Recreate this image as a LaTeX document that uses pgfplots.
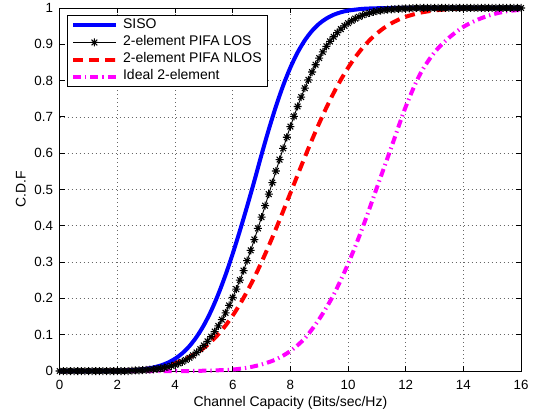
\documentclass[border=0pt]{standalone}
\usepackage{pgfplots}
\pgfplotsset{compat=1.18}
\usepackage{pgfplotstable}
\usepackage{fontspec}
\setmainfont{Liberation Sans}
\definecolor{mblue}{rgb}{0,0,1}
\definecolor{mred}{rgb}{1,0,0}
\definecolor{mmag}{rgb}{1,0,1}
\pgfdeclareplotmark{mstar}{%
 \pgfpathmoveto{\pgfqpoint{-\pgfplotmarksize}{0pt}}\pgfpathlineto{\pgfqpoint{\pgfplotmarksize}{0pt}}%
 \pgfpathmoveto{\pgfqpoint{0pt}{-\pgfplotmarksize}}\pgfpathlineto{\pgfqpoint{0pt}{\pgfplotmarksize}}%
 \pgfpathmoveto{\pgfqpoint{-0.707\pgfplotmarksize}{-0.707\pgfplotmarksize}}\pgfpathlineto{\pgfqpoint{0.707\pgfplotmarksize}{0.707\pgfplotmarksize}}%
 \pgfpathmoveto{\pgfqpoint{-0.707\pgfplotmarksize}{0.707\pgfplotmarksize}}\pgfpathlineto{\pgfqpoint{0.707\pgfplotmarksize}{-0.707\pgfplotmarksize}}%
 \pgfusepathqstroke}

\pgfplotstableread{
x y
0 0
0.25 0
0.5 0
1 0
1.5 0.0002
2 0.0007
2.5 0.0021
2.75 0.0036
3 0.0060
3.25 0.0096
3.5 0.0150
3.75 0.0228
4 0.0337
4.25 0.0487
4.5 0.0686
4.75 0.0943
5 0.1263
5.25 0.1653
5.5 0.2115
5.75 0.2643
6 0.3231
6.25 0.3867
6.5 0.4538
6.75 0.5235
7 0.5960
7.25 0.6650
7.5 0.7291
7.75 0.7864
8 0.8360
8.25 0.8774
8.5 0.9108
8.75 0.9369
9 0.9567
9.25 0.9711
9.5 0.9813
9.75 0.9882
10 0.9928
10.5 0.9976
11 0.9993
11.5 1
12 1
13 1
14 1
15 1
16 1
}\sisodata

\pgfplotstableread{
x y
0 0
0.125 0
0.25 0
0.375 0
0.5 0
0.625 0
0.75 0
0.875 0
1 0
1.125 0
1.25 0
1.375 0
1.5 0
1.625 0
1.75 0
1.875 0
2 0
2.125 0
2.25 0
2.375 0
2.5 0.0011
2.625 0.0014
2.75 0.0018
2.875 0.0023
3 0.0029
3.125 0.0037
3.25 0.0047
3.375 0.0059
3.5 0.0074
3.625 0.0092
3.75 0.0114
3.875 0.0141
4 0.0172
4.125 0.0209
4.25 0.0253
4.375 0.0304
4.5 0.0363
4.625 0.0432
4.75 0.0510
4.875 0.0601
5 0.0702
5.125 0.0816
5.25 0.0944
5.375 0.1086
5.5 0.1243
5.625 0.1414
5.75 0.1601
5.875 0.1806
6 0.2024
6.125 0.2257
6.25 0.2505
6.375 0.2766
6.5 0.3040
6.625 0.3325
6.75 0.3621
6.875 0.3928
7 0.4239
7.125 0.4554
7.25 0.4872
7.375 0.5191
7.5 0.5509
7.625 0.5824
7.75 0.6133
7.875 0.6439
8 0.6733
8.125 0.7016
8.25 0.7287
8.375 0.7546
8.5 0.7791
8.625 0.8021
8.75 0.8236
8.875 0.8437
9 0.8621
9.125 0.8790
9.25 0.8944
9.375 0.9082
9.5 0.9207
9.625 0.9319
9.75 0.9419
9.875 0.9506
10 0.9583
10.125 0.9649
10.25 0.9707
10.375 0.9756
10.5 0.9799
10.625 0.9835
10.75 0.9865
10.875 0.9890
11 0.9912
11.125 0.9929
11.25 0.9943
11.375 0.9955
11.5 0.9964
11.625 0.9972
11.75 0.9978
11.875 0.9983
12 0.9987
12.125 0.9990
12.25 0.9993
12.375 1
12.5 1
12.625 1
12.75 1
12.875 1
13 1
13.125 1
13.25 1
13.375 1
13.5 1
13.625 1
13.75 1
13.875 1
14 1
14.125 1
14.25 1
14.375 1
14.5 1
14.625 1
14.75 1
14.875 1
15 1
15.125 1
15.25 1
15.375 1
15.5 1
15.625 1
15.75 1
15.875 1
16 1
}\losdata

\pgfplotstableread{
x y
0 0
0.5 0
1 0.0002
1.5 0.0005
2 0.0012
2.5 0.0028
3 0.0058
3.25 0.0082
3.5 0.0115
3.75 0.0158
4 0.0214
4.25 0.0287
4.5 0.0380
4.75 0.0495
5 0.0636
5.25 0.0808
5.5 0.1011
5.75 0.1251
6 0.1527
6.25 0.1841
6.5 0.2192
6.75 0.2578
7 0.2998
7.25 0.3446
7.5 0.3917
7.75 0.4404
8 0.4900
8.25 0.5398
8.5 0.5890
8.75 0.6368
9 0.6826
9.25 0.7257
9.5 0.7658
9.75 0.8023
10 0.8352
10.25 0.8643
10.5 0.8897
10.75 0.9115
11 0.9299
11.25 0.9452
11.5 0.9577
11.75 0.9678
12 0.9759
12.5 0.9870
13 0.9933
13.5 0.9968
14 0.9985
15 0.9997
16 1
}\nlosdata

\pgfplotstableread{
x y
0 0
1 0
2 0
3 0
4 0
4.5 0
5 0.0008
5.5 0.002
6 0.004
6.5 0.009
7 0.018
7.5 0.032
8 0.055
8.5 0.09
9 0.143
9.5 0.21
10 0.295
10.5 0.394
11 0.505
11.5 0.616
12 0.728
12.5 0.818
13 0.878
13.5 0.918
14 0.948
14.5 0.968
15 0.982
15.5 0.991
16 0.995
}\idealdata

\begin{document}
\begin{tikzpicture}
\begin{axis}[
  scale only axis,
  width=346pt, height=272.25pt,
  xmin=0, xmax=16, ymin=0, ymax=1,
  xtick={0,2,4,6,8,10,12,14,16},
  ytick={0,0.1,0.2,0.3,0.4,0.5,0.6,0.7,0.8,0.9,1},
  grid=major,
  grid style={black!60, dash pattern=on 0.6pt off 2.4pt, line width=0.5pt},
  tick align=inside,
  major tick length=3.75pt,
  tick style={black, line width=0.6pt},
  axis line style={black, line width=0.6pt},
  clip=false,
  /pgf/number format/assume math mode=true,
  ticklabel style={font=\fontsize{10}{12}\selectfont},
  xticklabel style={yshift=-3.4pt},
  yticklabel style={xshift=-1.5pt},
  xlabel={Channel Capacity (Bits/sec/Hz)},
  ylabel={C.D.F},
  label style={font=\fontsize{10.5}{12}\selectfont},
  x label style={at={(axis description cs:0.5,-0.0984)}, anchor=base},
  y label style={at={(axis description cs:-0.0636,0.5)}, anchor=south},
  reverse legend,
  legend cell align=left,
  legend image code/.code={\draw[mark repeat=2,mark phase=2,#1] plot coordinates {(0pt,0pt) (16pt,0pt) (32pt,0pt)};},
  legend style={at={(axis description cs:0,1)}, anchor=north west, xshift=5.25pt, yshift=-5.25pt,
    draw=black, line width=0.6pt, fill=white, font=\fontsize{10.5}{12}\selectfont,
    inner xsep=3pt, inner ysep=1.5pt, row sep=0.8pt,
    nodes={inner sep=1pt, text height=0.75em, text depth=0.25em},
    /tikz/every odd column/.append style={column sep=3pt}},
]
\addplot[mmag, line width=3pt, smooth, dash pattern=on 6pt off 3pt on 1pt off 3pt] table {\idealdata};
\addlegendentry{Ideal 2-element}
\addplot[mred, line width=3pt, smooth, dash pattern=on 7.5pt off 4.5pt] table {\nlosdata};
\addlegendentry{2-element PIFA NLOS}
\addplot[black, line width=0.7pt, mark=mstar, mark size=3pt, mark options={solid, line width=0.8pt}] table {\losdata};
\addlegendentry{2-element PIFA LOS}
\addplot[mblue, line width=3pt, smooth] table {\sisodata};
\addlegendentry{SISO}
\end{axis}
\pgfresetboundingbox
\useasboundingbox (-44.78pt,-31.5pt) rectangle (355.72pt,278.25pt);
\end{tikzpicture}
\end{document}
